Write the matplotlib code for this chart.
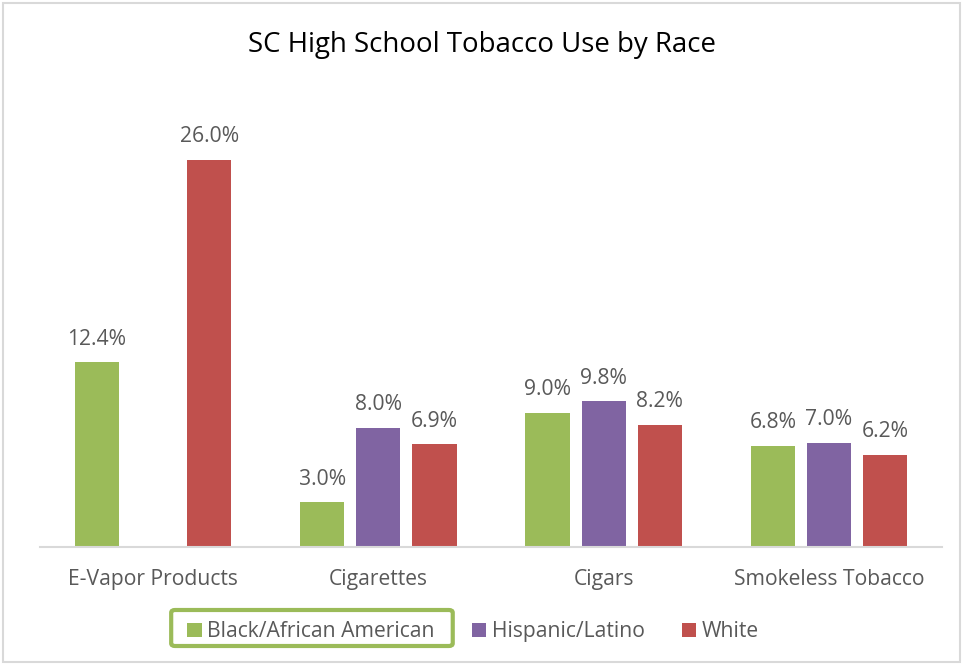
import numpy as np
import matplotlib.pyplot as plt
from matplotlib.patches import FancyBboxPatch, Rectangle

categories = ["E-Vapor Products", "Cigarettes", "Cigars", "Smokeless Tobacco"]
series_names = ["Black/African American", "Hispanic/Latino", "White"]
black = [12.4, 3.0, 9.0, 6.8]
hispanic = [np.nan, 8.0, 9.8, 7.0]
white = [26.0, 6.9, 8.2, 6.2]
colors = ["#9BBB59", "#8064A2", "#C0504D"]

plt.rcParams['font.family'] = ['Open Sans', 'DejaVu Sans']
text_color = "#595959"
fs = 15.2

fig = plt.figure(figsize=(9.63, 6.65), dpi=100)
ax = fig.add_axes([0.042, 0.1774, 0.9357, 0.672])

x = np.arange(len(categories))
width = 0.196
step = 0.249
for i, (vals, name, c) in enumerate(zip([black, hispanic, white], series_names, colors)):
    vals = np.array(vals, dtype=float)
    bars = ax.bar(x + (i - 1) * step, np.nan_to_num(vals), width, color=c, label=name)
    labels = ["" if np.isnan(v) else "%.1f%%" % v for v in vals]
    ax.bar_label(bars, labels=labels, padding=9, fontsize=fs, color=text_color)

ax.set_xlim(-0.5, len(categories) - 0.5)
ax.set_ylim(0, 30)
ax.set_yticks([])
ax.set_xticks(x)
ax.set_xticklabels(categories, fontsize=fs, color=text_color)
ax.tick_params(axis='x', length=0, pad=16)
for s in ["top", "right", "left"]:
    ax.spines[s].set_visible(False)
ax.spines["bottom"].set_color("#d9d9d9")
ax.spines["bottom"].set_linewidth(1.5)

fig.text(0.5, 1 - 45 / 665, "SC High School Tobacco Use by Race", ha="center", va="center",
         fontsize=19.9, color="black")

leg = ax.legend(loc="center", bbox_to_anchor=(0.48, -0.19), ncol=3, frameon=False,
                fontsize=fs, handlelength=0.7, handleheight=0.7, handletextpad=0.25,
                columnspacing=1.75, labelcolor=text_color)

# highlight box around the first legend entry
fig.canvas.draw()
r = fig.canvas.get_renderer()
first = leg.legend_handles[0].get_window_extent(r)
txt = leg.get_texts()[0].get_window_extent(r)
W, H = fig.bbox.width, fig.bbox.height
x0 = (first.x0 - 16) / W
x1 = (txt.x1 + 18) / W
y0 = 19 / H
y1 = 55 / H
fig.patches.append(FancyBboxPatch((x0, y0), x1 - x0, y1 - y0, boxstyle="round,pad=0,rounding_size=0.004",
                                  transform=fig.transFigure, fill=False, ec="#9BBB59", lw=3))

# outer chart border
fig.patches.append(Rectangle((0.003, 0.004), 0.994, 0.991, transform=fig.transFigure,
                             fill=False, ec="#d9d9d9", lw=1.5))

fig.savefig("out.png", dpi=100)
